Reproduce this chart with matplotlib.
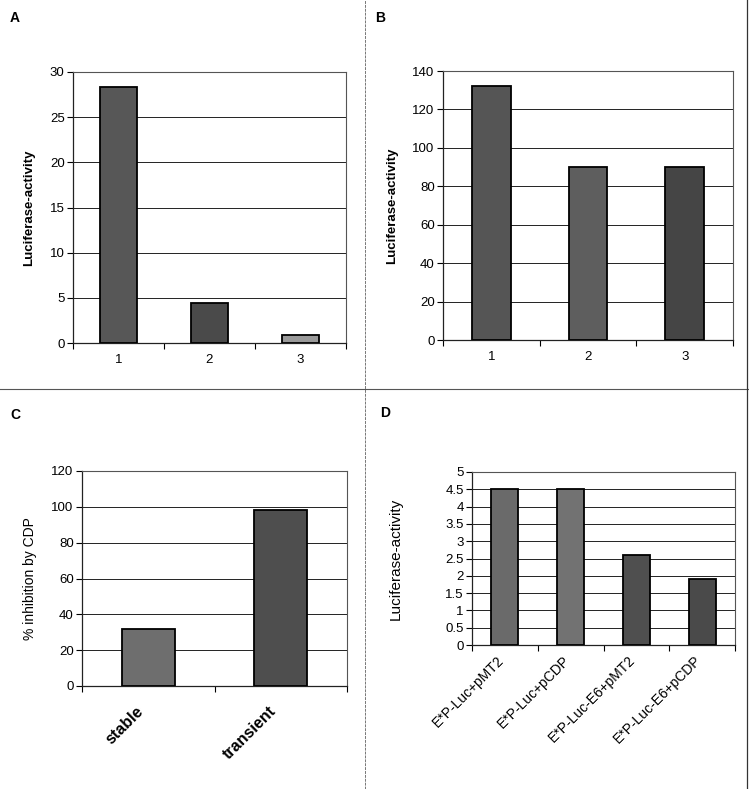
import matplotlib
matplotlib.use("Agg")
import matplotlib.pyplot as plt
from matplotlib.lines import Line2D
from matplotlib.transforms import ScaledTranslation
import numpy as np

plt.rcParams['font.family'] = ['Liberation Sans', 'DejaVu Sans']

# Data
a_cats = ["1", "2", "3"]
a_vals = [28.3, 4.4, 0.9]
a_cols = ["#575757", "#4a4a4a", "#9a9a9a"]

b_cats = ["1", "2", "3"]
b_vals = [132, 90, 90]
b_cols = ["#555555", "#5e5e5e", "#454545"]

c_cats = ["stable", "transient"]
c_vals = [32, 98]
c_cols = ["#6e6e6e", "#4e4e4e"]

d_cats = ["E*P-Luc+pMT2", "E*P-Luc+pCDP", "E*P-Luc-E6+pMT2", "E*P-Luc-E6+pCDP"]
d_vals = [4.5, 4.5, 2.6, 1.9]
d_cols = ["#6a6a6a", "#727272", "#4f4f4f", "#4a4a4a"]

W, H = 749, 789
fig = plt.figure(figsize=(W / 100, H / 100), dpi=100)
fig.patch.set_facecolor("white")


def px_axes(l, t, r, b):
    return fig.add_axes([l / W, 1 - b / H, (r - l) / W, (b - t) / H])


def style(ax, cats, vals, cols, yticks, ylabel, width, lab_x, tickfont=9.5, tickrot=0,
          tickbold=False, ylabsize=9.5, ylabbold=True):
    n = len(cats)
    x = np.arange(n)
    ax.bar(x, vals, width=width, color=cols, edgecolor="black", linewidth=1.3, zorder=3)
    ax.set_xlim(-0.5, n - 0.5)
    ax.set_ylim(yticks[0], yticks[-1])
    ax.set_yticks(yticks)
    ax.yaxis.grid(True, color="#222222", linewidth=0.7, zorder=0)
    ax.set_axisbelow(True)
    ax.set_xticks(x)
    ax.set_xticks(np.arange(n + 1) - 0.5, minor=True)
    ax.tick_params(axis="x", which="major", length=0, pad=8)
    ax.tick_params(axis="x", which="minor", length=4, direction="out", width=0.8)
    ax.tick_params(axis="y", length=4, direction="out", width=0.8, labelsize=9.5, pad=2)
    if tickrot:
        ax.set_xticklabels(cats, rotation=tickrot, ha="right", rotation_mode="anchor",
                           fontsize=tickfont, fontweight="bold" if tickbold else "normal")
    else:
        ax.set_xticklabels(cats, fontsize=tickfont)
    for s in ["top", "right"]:
        ax.spines[s].set_color("#555555")
        ax.spines[s].set_linewidth(0.8)
    for s in ["left", "bottom"]:
        ax.spines[s].set_color("#222222")
        ax.spines[s].set_linewidth(0.9)
    ax.set_ylabel(ylabel, fontsize=ylabsize, fontweight="bold" if ylabbold else "normal")
    ax.yaxis.set_label_coords(lab_x, 0.5)


axA = px_axes(73, 72, 346, 343)
style(axA, a_cats, a_vals, a_cols, [0, 5, 10, 15, 20, 25, 30], "Luciferase-activity", 0.4,
      (35 - 73) / 273)

axB = px_axes(443, 71, 733, 340)
style(axB, b_cats, b_vals, b_cols, [0, 20, 40, 60, 80, 100, 120, 140], "Luciferase-activity", 0.4,
      (398 - 443) / 290)

axC = px_axes(82, 471, 347, 686)
style(axC, c_cats, c_vals, c_cols, [0, 20, 40, 60, 80, 100, 120], "% inhibition by CDP", 0.4,
      (37 - 82) / 265, tickfont=11.5, tickrot=45, tickbold=True, ylabsize=10, ylabbold=False)
axC.tick_params(axis="x", which="major", pad=10)
for lbl in axC.get_xticklabels():
    lbl.set_transform(lbl.get_transform() + ScaledTranslation(-12 / 100, -4 / 100, fig.dpi_scale_trans))

axD = px_axes(472, 472, 735, 645)
style(axD, d_cats, d_vals, d_cols, [0, 0.5, 1, 1.5, 2, 2.5, 3, 3.5, 4, 4.5, 5], "Luciferase-activity", 0.41,
      (403 - 472) / 263, tickfont=10, tickrot=45, ylabsize=11, ylabbold=False)
axD.set_yticklabels(["0", "0.5", "1", "1.5", "2", "2.5", "3", "3.5", "4", "4.5", "5"])
axD.tick_params(axis="x", which="major", pad=6)
for lbl in axD.get_xticklabels():
    lbl.set_transform(lbl.get_transform() + ScaledTranslation(-8 / 100, 0, fig.dpi_scale_trans))

# Panel letters
for lbl, xp, yp in [("A", 10, 18), ("B", 375, 18), ("C", 10, 415), ("D", 380, 413)]:
    fig.text(xp / W, 1 - yp / H, lbl, fontsize=10, fontweight="bold", va="center", ha="left")

# Divider lines
fig.add_artist(Line2D([365 / W, 365 / W], [0, 1], color="#777777", linewidth=0.7, linestyle=(0, (3, 1))))
fig.add_artist(Line2D([0, 1], [1 - 389 / H, 1 - 389 / H], color="#555555", linewidth=0.8))
fig.add_artist(Line2D([747 / W, 747 / W], [0, 1], color="#333333", linewidth=0.9))

fig.savefig("out.png", dpi=100, facecolor="white")
